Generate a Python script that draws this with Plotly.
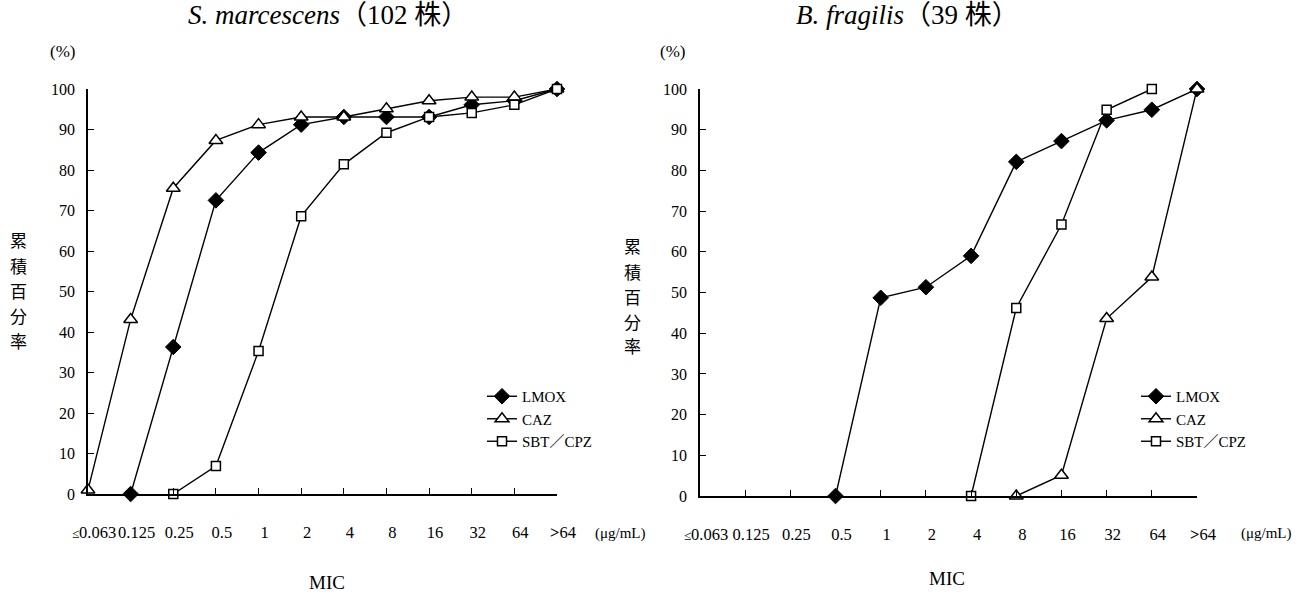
import plotly.graph_objects as go

W, H = 1310, 598

categories = ["≦0.063", "0.125", "0.25", "0.5", "1", "2", "4", "8", "16", "32", "64", ">64"]
tick_labels = ['<span style="font-size:13px">≤</span>0.063', "0.125", "0.25", "0.5", "1", "2",
               "4", "8", "16", "32", "64", "<b>></b>64"]
y_ticks = [0, 10, 20, 30, 40, 50, 60, 70, 80, 90, 100]

# S. marcescens (102 strains) cumulative %
sm_lmox = [None, 0, 36.3, 72.5, 84.3, 91.2, 93.1, 93.1, 93.1, 96.1, 97.1, 100]
sm_caz = [1.0, 43.1, 75.5, 87.3, 91.2, 93.1, 93.1, 95.1, 97.1, 98.0, 98.0, 100]
sm_sbt = [None, None, 0, 6.9, 35.3, 68.6, 81.4, 89.2, 93.1, 94.1, 96.1, 100]

# B. fragilis (39 strains) cumulative %
bf_lmox = [None, None, None, 0, 48.7, 51.3, 59.0, 82.1, 87.2, 92.3, 94.9, 100]
bf_caz = [None, None, None, None, None, None, None, 0, 5.1, 43.6, 53.8, 100]
bf_sbt = [None, None, None, None, None, None, 0, 46.2, 66.7, 94.9, 100, None]

series_names = ["LMOX", "CAZ", "SBT／CPZ"]
y_title_chars = ["累", "積", "百", "分", "率"]

SERIF = "Liberation Serif, Noto Sans CJK JP, serif"
CJK = "Noto Sans CJK JP, sans-serif"

styles = [
    dict(symbol="diamond", size=12, color="black", line=dict(color="black", width=1)),
    dict(symbol="triangle-up", size=12, color="white", line=dict(color="black", width=1.5)),
    dict(symbol="square", size=9, color="white", line=dict(color="black", width=1.5)),
]

fig = go.Figure()
for data, xa, ya, lg in [
    ((sm_lmox, sm_caz, sm_sbt), "x", "y", "legend"),
    ((bf_lmox, bf_caz, bf_sbt), "x2", "y2", "legend2"),
]:
    for name, vals, st in zip(series_names, data, styles):
        fig.add_trace(go.Scatter(
            x=categories, y=vals, name=name, mode="lines+markers",
            line=dict(color="black", width=1.4),
            marker=st, xaxis=xa, yaxis=ya, legend=lg,
            cliponaxis=False, connectgaps=False, showlegend=True,
        ))

def px_x(p):
    return p / W

def px_y(p):
    return 1 - p / H

xcommon = dict(
    type="category", categoryorder="array", categoryarray=categories,
    range=[0, 11], tickmode="array", tickvals=categories, ticktext=tick_labels,
    tickangle=0,
    ticks="inside", ticklen=6, tickwidth=1.3, tickcolor="black",
    showline=True, linecolor="black", linewidth=1.6, showgrid=False, zeroline=False,
    tickfont=dict(family=SERIF, size=16.5, color="black"),
    ticklabelstandoff=22, ticklabelshift=6, automargin=False, fixedrange=True,
)
ycommon = dict(
    range=[0, 100], tickmode="array", tickvals=y_ticks,
    ticks="inside", ticklen=6, tickwidth=1.3, tickcolor="black",
    showline=True, linecolor="black", linewidth=1.6, showgrid=False, zeroline=False,
    tickfont=dict(family=SERIF, size=16, color="black"),
    ticklabelstandoff=8, automargin=False, fixedrange=True,
)

legend_common = dict(xanchor="left", yanchor="top",
                     font=dict(family=SERIF, size=15, color="black"),
                     bgcolor="rgba(0,0,0,0)", tracegroupgap=0, itemwidth=30)

fig.update_layout(
    width=W, height=H,
    margin=dict(l=0, r=0, t=0, b=0),
    paper_bgcolor="white", plot_bgcolor="white",
    xaxis=dict(domain=[px_x(88), px_x(557)], anchor="y", **xcommon),
    yaxis=dict(domain=[px_y(494), px_y(89)], anchor="x", **ycommon),
    xaxis2=dict(domain=[px_x(700), px_x(1197)], anchor="y2", **xcommon),
    yaxis2=dict(domain=[px_y(496), px_y(89)], anchor="x2", **ycommon),
    legend=dict(x=px_x(482), y=px_y(380), **legend_common),
    legend2=dict(x=px_x(1136), y=px_y(380), **legend_common),
    showlegend=True,
)

ann = []
def add(text, x, y, size, family=SERIF, xanchor="center"):
    ann.append(dict(text=text, x=px_x(x), y=px_y(y), xref="paper", yref="paper",
                    showarrow=False, xanchor=xanchor, yanchor="middle",
                    font=dict(family=family, size=size, color="black")))

add("<i>S. marcescens</i>（102 株）", 328, 15, 27)
add("<i>B. fragilis</i>（39 株）", 907, 15, 27)
add("(%)", 62, 52, 17)
add("(%)", 672, 52, 17)
for i, ch in enumerate(y_title_chars):
    add(ch, 18, 240 + 25 * i, 17, CJK)
    add(ch, 632, 246 + 25 * i, 17, CJK)
add("MIC", 327, 582, 19)
add("MIC", 947, 578, 19)
add("(μg/mL)", 620, 533, 15)
add("(μg/mL)", 1266, 533, 15)
fig.update_layout(annotations=ann)

fig.write_html("out.html")
